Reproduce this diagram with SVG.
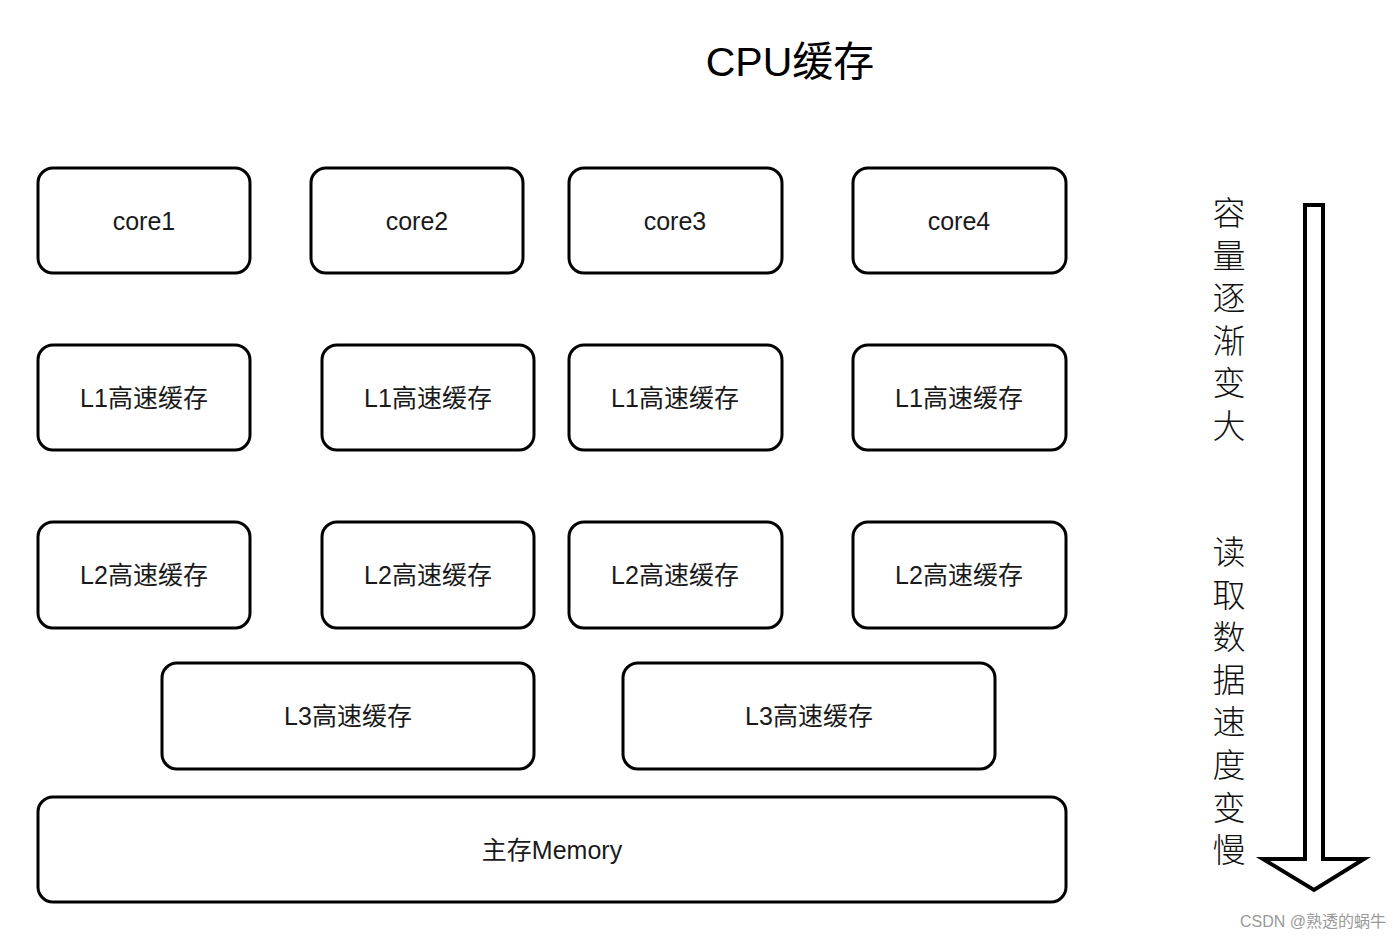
<svg xmlns="http://www.w3.org/2000/svg" width="1400" height="939" viewBox="0 0 1400 939">
<style>
.box{fill:#fff;stroke:#000;stroke-width:3}
.lbl{font-family:"Liberation Sans","Noto Sans CJK SC",sans-serif;font-size:25px;fill:#1a1a1a;text-anchor:middle;dominant-baseline:central}
.vt{font-family:"Noto Sans CJK SC",sans-serif;font-size:33px;font-weight:300;fill:#111;writing-mode:vertical-rl;letter-spacing:9.6px}
</style>
<rect width="1400" height="939" fill="#fff"/>
<text x="790" y="76" font-family="Liberation Sans,'Noto Sans CJK SC',sans-serif" font-size="41" text-anchor="middle" fill="#000">CPU缓存</text>
<g id="core1"><rect class="box" x="38" y="168" width="212" height="105" rx="15"/><text class="lbl" x="144" y="221">core1</text></g>
<g id="core2"><rect class="box" x="311" y="168" width="212" height="105" rx="15"/><text class="lbl" x="417" y="221">core2</text></g>
<g id="core3"><rect class="box" x="569" y="168" width="213" height="105" rx="15"/><text class="lbl" x="675" y="221">core3</text></g>
<g id="core4"><rect class="box" x="853" y="168" width="213" height="105" rx="15"/><text class="lbl" x="959" y="221">core4</text></g>
<g id="l1a"><rect class="box" x="38" y="345" width="212" height="105" rx="15"/><text class="lbl" x="144" y="398">L1高速缓存</text></g>
<g id="l1b"><rect class="box" x="322" y="345" width="212" height="105" rx="15"/><text class="lbl" x="428" y="398">L1高速缓存</text></g>
<g id="l1c"><rect class="box" x="569" y="345" width="213" height="105" rx="15"/><text class="lbl" x="675" y="398">L1高速缓存</text></g>
<g id="l1d"><rect class="box" x="853" y="345" width="213" height="105" rx="15"/><text class="lbl" x="959" y="398">L1高速缓存</text></g>
<g id="l2a"><rect class="box" x="38" y="522" width="212" height="106" rx="15"/><text class="lbl" x="144" y="575">L2高速缓存</text></g>
<g id="l2b"><rect class="box" x="322" y="522" width="212" height="106" rx="15"/><text class="lbl" x="428" y="575">L2高速缓存</text></g>
<g id="l2c"><rect class="box" x="569" y="522" width="213" height="106" rx="15"/><text class="lbl" x="675" y="575">L2高速缓存</text></g>
<g id="l2d"><rect class="box" x="853" y="522" width="213" height="106" rx="15"/><text class="lbl" x="959" y="575">L2高速缓存</text></g>
<g id="l3a"><rect class="box" x="162" y="663" width="372" height="106" rx="15"/><text class="lbl" x="348" y="716">L3高速缓存</text></g>
<g id="l3b"><rect class="box" x="623" y="663" width="372" height="106" rx="15"/><text class="lbl" x="809" y="716">L3高速缓存</text></g>
<g id="memory"><rect class="box" x="38" y="797" width="1028" height="105" rx="15"/><text class="lbl" x="552" y="850">主存Memory</text></g>
<g id="connectors">
<path d="M1305 205 H1323 V859 H1364 L1314 890 L1263 859 H1305 Z" fill="#fff" stroke="#000" stroke-width="4" stroke-linejoin="miter"/>
</g>
<g id="vlabel">
<text class="vt" x="1229" y="196">容量逐渐变大</text>
<text class="vt" x="1229" y="535">读取数据速度变慢</text>
</g>
<text x="1386" y="927" font-family="Liberation Sans,'Noto Sans CJK SC',sans-serif" font-size="16" fill="#999" text-anchor="end">CSDN @熟透的蜗牛</text>
</svg>
